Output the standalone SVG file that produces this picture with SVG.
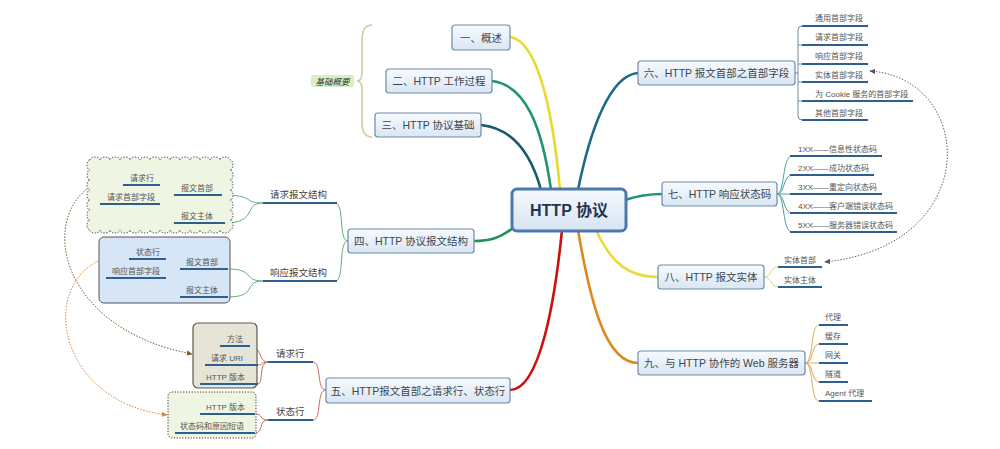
<svg xmlns="http://www.w3.org/2000/svg" width="1000" height="449" viewBox="0 0 1000 449">
<defs>
<linearGradient id="ng" x1="0" y1="0" x2="0" y2="1"><stop offset="0" stop-color="#f7fafd"/><stop offset="1" stop-color="#d9e6f3"/></linearGradient>
<linearGradient id="cg" x1="0" y1="0" x2="0" y2="1"><stop offset="0" stop-color="#f6f9fd"/><stop offset="1" stop-color="#d6e4f3"/></linearGradient>
<marker id="ag" viewBox="0 0 8 8" refX="7" refY="4" markerWidth="6" markerHeight="6" orient="auto-start-reverse"><path d="M0 0.5 L8 4 L0 7.5 Z" fill="#555"/></marker>
<marker id="ab" viewBox="0 0 8 8" refX="7" refY="4" markerWidth="6" markerHeight="6" orient="auto-start-reverse"><path d="M0 0.5 L8 4 L0 7.5 Z" fill="#7a5a2a"/></marker>
<marker id="ao" viewBox="0 0 8 8" refX="7" refY="4" markerWidth="6" markerHeight="6" orient="auto-start-reverse"><path d="M0 0.5 L8 4 L0 7.5 Z" fill="#d08a40"/></marker>
</defs>
<style>
text{font-family:"Liberation Sans","Noto Sans CJK SC",sans-serif;fill:#4a4a4a}
.node{fill:url(#ng);stroke:#6d8bab;stroke-width:1.2}
.nt{font-size:10.5px;text-anchor:middle;fill:#3c4650}
.st{font-size:8px;fill:#555}
.mt{font-size:9.5px;fill:#444}
.ul{stroke:#2d5f8f;stroke-width:2;fill:none}
.br{fill:none;stroke-width:2.6;stroke-linecap:round}
.thin{fill:none;stroke-width:1}
.dash{fill:none;stroke-width:1;stroke-dasharray:1.5 1.5}
</style>
<rect width="1000" height="449" fill="#ffffff"/>

<g id="connectors">
<path class="br" d="M510 37 C535 40 552 100 560 190" stroke="#e6da2a"/>
<path class="br" d="M492 81 C525 85 542 125 551 190" stroke="#1f9474"/>
<path class="br" d="M481 125 C510 128 530 150 541 190" stroke="#1b5a6c"/>
<path class="br" d="M578 190 C590 130 610 75 638 73" stroke="#1b6a86"/>
<path class="br" d="M625 200 C640 195 650 194 662 194" stroke="#1f9474"/>
<path class="br" d="M596 230 C612 265 630 277 658 277" stroke="#e6dc3a"/>
<path class="br" d="M578 230 C590 300 605 363 638 363" stroke="#dc8a1c"/>
<path class="br" d="M562 230 C555 300 540 390 510 390" stroke="#cc1010"/>
<path class="br" d="M513 228 C500 238 490 241 474 241" stroke="#1a9456"/>

<path d="M372 25 Q362 25 362 40 L362 72 Q362 81 357 81 Q362 81 362 90 L362 122 Q362 137 372 137" fill="none" stroke="#cfc99e" stroke-width="1.6"/>

<g stroke="#5fae80" class="thin">
<path d="M348 241 C338 241 345 203 335 203"/>
<path d="M348 241 C338 241 345 281 335 281"/>
<path d="M263 203 C243 203 255 195 222 195"/>
<path d="M263 203 C243 203 258 223 225 223"/>
<path d="M174 195 C165 195 168 185 160 185"/>
<path d="M174 195 C165 195 168 204 160 204"/>
<path d="M263 281 C243 281 255 269 228 269"/>
<path d="M263 281 C243 281 258 297 228 297"/>
<path d="M180 269 C171 269 174 259 166 259"/>
<path d="M180 269 C171 269 174 278 166 278"/>
</g>

<g stroke="#c77060" class="thin">
<path d="M326 390 C316 390 322 362 313 362"/>
<path d="M326 390 C316 390 322 420 313 420"/>
<path d="M268 362 C258 362 262 346 250 346"/>
<path d="M268 362 C260 362 264 365 258 365"/>
<path d="M268 362 C258 362 264 384 258 384"/>
<path d="M268 420 C258 420 264 414 255 414"/>
<path d="M268 420 C258 420 264 433 255 433"/>
</g>

<g stroke="#6c8a9c" class="thin">
<path d="M795 73 L798 73"/>
<path d="M802 26 Q798 26 798 30 L798 116 Q798 120 802 120"/>
<path d="M798 45 L802 45 M798 64 L802 64 M798 82 L802 82 M798 101 L802 101"/>
</g>

<g stroke="#4a9fa6" class="thin">
<path d="M777 194 C785 194 782 156 792 156"/>
<path d="M777 194 C785 194 783 175 792 175"/>
<path d="M777 194 L792 194"/>
<path d="M777 194 C785 194 783 213 792 213"/>
<path d="M777 194 C785 194 782 232 792 232"/>
</g>

<g stroke="#d7d77a" class="thin">
<path d="M764 277 C772 277 770 267 778 267"/>
<path d="M764 277 C772 277 770 287 778 287"/>
</g>

<g stroke="#d9aa60" class="thin">
<path d="M805 363 C814 363 810 325 819 325"/>
<path d="M805 363 C814 363 811 344 819 344"/>
<path d="M805 363 L819 363"/>
<path d="M805 363 C814 363 811 382 819 382"/>
<path d="M805 363 C814 363 810 401 819 401"/>
</g>

<path class="dash" d="M870 71 C975 78 985 245 825 262" stroke="#666" marker-start="url(#ag)" marker-end="url(#ag)"/>
<path class="dash" d="M120 176 C35 185 40 325 192 354" stroke="#7a5a2a" marker-start="url(#ab)" marker-end="url(#ab)"/>
<path class="dash" d="M127 254 C35 258 45 400 167 415" stroke="#d08a40" marker-start="url(#ao)" marker-end="url(#ao)"/>
</g>

<g id="n-center">
<rect x="512" y="189" width="114" height="42" rx="5" fill="url(#cg)" stroke="#4a78b0" stroke-width="3"/>
<text x="569" y="216" style="font-size:16px;font-weight:bold;text-anchor:middle;fill:#1f3550">HTTP 协议</text>
</g>

<g id="n1"><rect class="node" x="452" y="25" width="58" height="25" rx="3"/><text class="nt" x="481" y="41.5">一、概述</text></g>
<g id="n2"><rect class="node" x="386" y="69" width="106" height="24" rx="3"/><text class="nt" x="439" y="85">二、HTTP 工作过程</text></g>
<g id="n3"><rect class="node" x="375" y="113" width="106" height="24" rx="3"/><text class="nt" x="428" y="129">三、HTTP 协议基础</text></g>
<g id="summary"><rect x="311" y="75" width="43" height="12" rx="2" fill="#d6efc6"/><text x="332.5" y="84.5" style="font-size:8.5px;font-style:italic;text-anchor:middle;fill:#333">基础概要</text></g>

<g id="n4"><rect class="node" x="348" y="229" width="126" height="24" rx="3"/><text class="nt" x="411" y="245">四、HTTP 协议报文结构</text></g>
<g id="n4a"><path class="ul" d="M263 203 L337 203"/><text class="mt" x="270" y="198">请求报文结构</text></g>
<g id="n4b"><path class="ul" d="M263 281 L337 281"/><text class="mt" x="270" y="276">响应报文结构</text></g>

<g id="req-cloud">
<path d="M90 160 a5 3 0 0 1 10 0 a5 3 0 0 1 10 0 a5 3 0 0 1 10 0 a5 3 0 0 1 10 0 a5 3 0 0 1 10 0 a5 3 0 0 1 10 0 a5 3 0 0 1 10 0 a5 3 0 0 1 10 0 a5 3 0 0 1 10 0 a5 3 0 0 1 10 0 a5 3 0 0 1 10 0 a5 3 0 0 1 10 0 a5 3 0 0 1 10 0 a5 3 0 0 1 10 0 a3 5 0 0 1 0 10 a3 5 0 0 1 0 10 a3 5 0 0 1 0 10 a3 5 0 0 1 0 10 a3 5 0 0 1 0 10 a3 5 0 0 1 0 10 a3 5 0 0 1 0 10 a5 3 0 0 1 -10 0 a5 3 0 0 1 -10 0 a5 3 0 0 1 -10 0 a5 3 0 0 1 -10 0 a5 3 0 0 1 -10 0 a5 3 0 0 1 -10 0 a5 3 0 0 1 -10 0 a5 3 0 0 1 -10 0 a5 3 0 0 1 -10 0 a5 3 0 0 1 -10 0 a5 3 0 0 1 -10 0 a5 3 0 0 1 -10 0 a5 3 0 0 1 -10 0 a5 3 0 0 1 -10 0 a3 5 0 0 1 0 -10 a3 5 0 0 1 0 -10 a3 5 0 0 1 0 -10 a3 5 0 0 1 0 -10 a3 5 0 0 1 0 -10 a3 5 0 0 1 0 -10 a3 5 0 0 1 0 -10 Z" fill="#eef5e2" stroke="#333" stroke-width="1" stroke-dasharray="1.2 1.6"/>
<path class="ul" d="M123 185 L160 185"/><text class="st" x="130" y="181">请求行</text>
<path class="ul" d="M100 204 L160 204"/><text class="st" x="107" y="200">请求首部字段</text>
<path class="ul" d="M174 195 L222 195"/><text class="st" x="181" y="191">报文首部</text>
<path class="ul" d="M174 223 L225 223"/><text class="st" x="181" y="219">报文主体</text>
</g>

<g id="resp-box">
<rect x="99" y="237" width="131" height="66" rx="5" fill="#d6e6f6" stroke="#555" stroke-width="1"/>
<path class="ul" d="M129 259 L166 259"/><text class="st" x="136" y="255">状态行</text>
<path class="ul" d="M106 278 L166 278"/><text class="st" x="112" y="274">响应首部字段</text>
<path class="ul" d="M180 269 L228 269"/><text class="st" x="186" y="265">报文首部</text>
<path class="ul" d="M180 297 L228 297"/><text class="st" x="186" y="293">报文主体</text>
</g>

<g id="n5"><rect class="node" x="326" y="378" width="184" height="25" rx="3"/><text class="nt" x="418" y="394.5">五、HTTP报文首部之请求行、状态行</text></g>
<g id="n5a"><path class="ul" d="M268 362 L313 362"/><text class="mt" x="276" y="357">请求行</text></g>
<g id="n5b"><path class="ul" d="M268 420 L313 420"/><text class="mt" x="276" y="415">状态行</text></g>

<g id="reqline-box">
<rect x="193" y="323" width="64" height="65" rx="5" fill="#e6e4d6" stroke="#5d5c4a" stroke-width="1.2"/>
<path class="ul" d="M220 346 L250 346"/><text class="st" x="227" y="342">方法</text>
<path class="ul" d="M205 365 L258 365"/><text class="st" x="211" y="361">请求 URI</text>
<path class="ul" d="M200 384 L258 384"/><text class="st" x="206" y="380">HTTP 版本</text>
</g>

<g id="statusline-box">
<rect x="168" y="392" width="88" height="46" rx="4" fill="#eef5e2" stroke="#333" stroke-width="1" stroke-dasharray="1.2 1.6"/>
<path class="ul" d="M200 414 L255 414"/><text class="st" x="206" y="410">HTTP 版本</text>
<path class="ul" d="M175 433 L255 433"/><text class="st" x="180" y="429">状态码和原因短语</text>
</g>

<g id="n6"><rect class="node" x="638" y="61" width="157" height="24" rx="3"/><text class="nt" x="716.5" y="77">六、HTTP 报文首部之首部字段</text></g>
<g id="n6-items">
<path class="ul" d="M802 26 L868 26"/><text class="st" x="815" y="21">通用首部字段</text>
<path class="ul" d="M802 45 L868 45"/><text class="st" x="815" y="40">请求首部字段</text>
<path class="ul" d="M802 64 L868 64"/><text class="st" x="815" y="59">响应首部字段</text>
<path class="ul" d="M802 82 L868 82"/><text class="st" x="815" y="78">实体首部字段</text>
<path class="ul" d="M802 101 L913 101"/><text class="st" x="815" y="97">为 Cookie 服务的首部字段</text>
<path class="ul" d="M802 120 L868 120"/><text class="st" x="815" y="116">其他首部字段</text>
</g>

<g id="n7"><rect class="node" x="662" y="182" width="115" height="24" rx="3"/><text class="nt" x="719.5" y="198">七、HTTP 响应状态码</text></g>
<g id="n7-items">
<path class="ul" d="M790 156 L882 156"/><text class="st" x="798" y="152">1XX——信息性状态码</text>
<path class="ul" d="M790 175 L874 175"/><text class="st" x="798" y="171">2XX——成功状态码</text>
<path class="ul" d="M790 194 L882 194"/><text class="st" x="798" y="190">3XX——重定向状态码</text>
<path class="ul" d="M790 213 L897 213"/><text class="st" x="798" y="209">4XX——客户端错误状态码</text>
<path class="ul" d="M790 232 L897 232"/><text class="st" x="798" y="228">5XX——服务器错误状态码</text>
</g>

<g id="n8"><rect class="node" x="658" y="265" width="106" height="24" rx="3"/><text class="nt" x="711" y="281">八、HTTP 报文实体</text></g>
<g id="n8-items">
<path class="ul" d="M778 267 L822 267"/><text class="st" x="784" y="263">实体首部</text>
<path class="ul" d="M778 287 L822 287"/><text class="st" x="784" y="283">实体主体</text>
</g>

<g id="n9"><rect class="node" x="638" y="351" width="167" height="24" rx="3"/><text class="nt" x="721.5" y="367">九、与 HTTP 协作的 Web 服务器</text></g>
<g id="n9-items">
<path class="ul" d="M819 325 L848 325"/><text class="st" x="825" y="320">代理</text>
<path class="ul" d="M819 344 L848 344"/><text class="st" x="825" y="339">缓存</text>
<path class="ul" d="M819 363 L848 363"/><text class="st" x="825" y="358">网关</text>
<path class="ul" d="M819 382 L848 382"/><text class="st" x="825" y="377">隧道</text>
<path class="ul" d="M819 401 L872 401"/><text class="st" x="825" y="396">Agent 代理</text>
</g>
</svg>
